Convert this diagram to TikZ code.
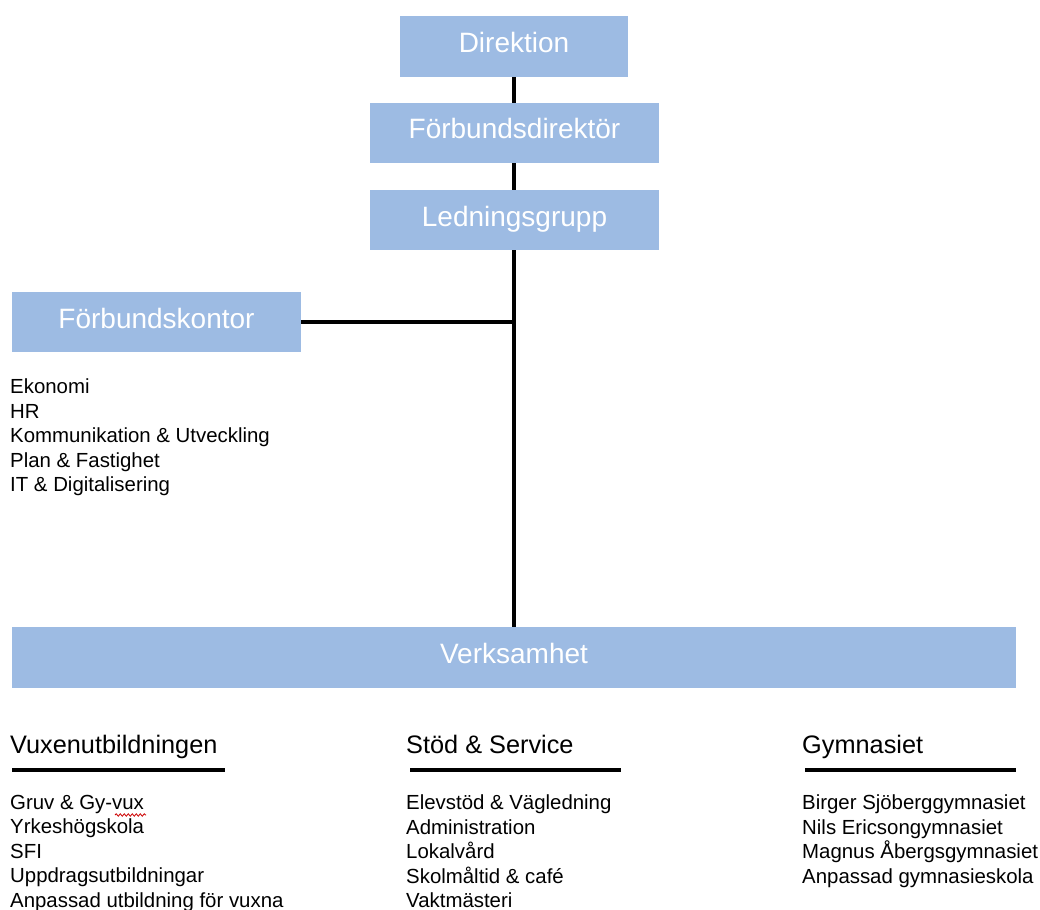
\documentclass[tikz,border=0pt]{standalone}
\usepackage{fontspec}
\setmainfont{Liberation Sans}
\usetikzlibrary{decorations.pathmorphing}
\definecolor{boxblue}{RGB}{157,187,227}
\tikzset{
  orgbox/.style={fill=boxblue, draw=none, inner sep=0pt, text=white,
    font=\fontsize{28}{33}\selectfont, text height=20pt, text depth=8pt},
  conn/.style={line width=4pt, black},
  headtxt/.style={anchor=base west, inner sep=0pt, font=\fontsize{25.3}{30}\selectfont},
  listtxt/.style={anchor=north west, inner sep=0pt, align=left, font=\fontsize{20.4}{24.5}\selectfont},
  rule/.style={line width=4pt, black}
}
\begin{document}
\begin{tikzpicture}[x=1pt,y=-1pt]
\useasboundingbox (0,0) rectangle (1040,909);
% boxes
\node[orgbox, minimum width=228pt, minimum height=61pt] (dir) at (514,46.5) {Direktion};
\node[orgbox, minimum width=289pt, minimum height=60pt] (fd) at (514.5,133) {Förbundsdirektör};
\node[orgbox, minimum width=289pt, minimum height=60pt] (lg) at (514.5,220) {Ledningsgrupp};
\node[orgbox, minimum width=289pt, minimum height=60pt] (fk) at (156.5,322) {Förbundskontor};
\node[orgbox, minimum width=1004pt, minimum height=61pt] (vh) at (514,657.5) {Verksamhet};
% connectors
\coordinate (j) at (514,322);
\draw[conn] (dir.south -| j) -- (fd.north -| j);
\draw[conn] (fd.south -| j) -- (lg.north -| j);
\draw[conn] (lg.south -| j) -- (vh.north -| j);
\draw[conn] (fk.east) -- (j);
% Förbundskontor list
\node[listtxt] (fklist) at (10,379) {Ekonomi\\HR\\Kommunikation \& Utveckling\\Plan \& Fastighet\\IT \& Digitalisering};
% headings
\node[headtxt] (h1) at (10,753) {Vuxenutbildningen};
\node[headtxt] (h2) at (406,753) {Stöd \& Service};
\node[headtxt] (h3) at (802,753) {Gymnasiet};
\coordinate (r1a) at (12,770); \coordinate (r1b) at (225,770);
\coordinate (r2a) at (410,770); \coordinate (r2b) at (621,770);
\coordinate (r3a) at (805,770); \coordinate (r3b) at (1016,770);
\draw[rule] (r1a) -- (r1b);
\draw[rule] (r2a) -- (r2b);
\draw[rule] (r3a) -- (r3b);
% lists
\node[listtxt] (l1) at (10,795) {Gruv \& Gy-vux\\Yrkeshögskola\\SFI\\Uppdragsutbildningar\\Anpassad utbildning för vuxna};
\node[listtxt] (l2) at (406,795) {Elevstöd \& Vägledning\\Administration\\Lokalvård\\Skolmåltid \& café\\Vaktmästeri};
\node[listtxt] (l3) at (802,795) {Birger Sjöberggymnasiet\\Nils Ericsongymnasiet\\Magnus Åbergsgymnasiet\\Anpassad gymnasieskola};
% spell-check squiggle
\coordinate (sqa) at (115,815); \coordinate (sqb) at (146,815);
\draw[red!80!black, line width=0.8pt, decorate, decoration={snake, amplitude=1.2pt, segment length=4pt}] (sqa) -- (sqb);
\end{tikzpicture}
\end{document}
